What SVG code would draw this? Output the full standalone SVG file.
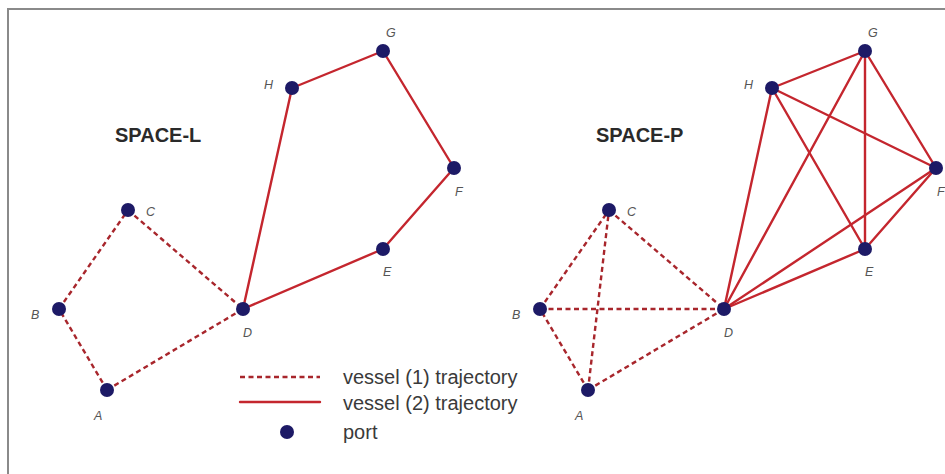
<svg xmlns="http://www.w3.org/2000/svg" width="945" height="474" viewBox="0 0 945 474">
<style>
.bg{fill:#ffffff}
.frame{fill:none;stroke:#8a8a8a;stroke-width:2}
.sol{stroke:#c4262e;stroke-width:2.4;fill:none;stroke-linecap:round}
.dash{stroke:#a8262c;stroke-width:2.4;fill:none;stroke-dasharray:5,3.5}
.port{fill:#1d1a66}
.lbl{font-family:"Liberation Sans",Arial,sans-serif;font-style:italic;font-size:12.5px;fill:#555555}
.title{font-family:"Liberation Sans",Arial,sans-serif;font-weight:bold;font-size:20px;fill:#2a2a2a}
.leg{font-family:"Liberation Sans",Arial,sans-serif;font-size:20px;fill:#3a3a3a}
</style>
<rect class="bg" x="0" y="0" width="945" height="474"/>
<rect class="frame" x="8" y="9" width="960" height="480"/>
<g id="connectors">
  <line class="dash" x1="107" y1="390" x2="59" y2="309"/>
  <line class="dash" x1="59" y1="309" x2="128" y2="210"/>
  <line class="dash" x1="128" y1="210" x2="243" y2="309"/>
  <line class="dash" x1="107" y1="390" x2="243" y2="309"/>
  <line class="sol" x1="243" y1="309" x2="292" y2="88"/>
  <line class="sol" x1="292" y1="88" x2="383" y2="51"/>
  <line class="sol" x1="383" y1="51" x2="454" y2="168"/>
  <line class="sol" x1="454" y1="168" x2="383" y2="249"/>
  <line class="sol" x1="383" y1="249" x2="243" y2="309"/>
  <line class="dash" x1="588" y1="390" x2="540" y2="309"/>
  <line class="dash" x1="540" y1="309" x2="609" y2="210"/>
  <line class="dash" x1="609" y1="210" x2="724" y2="309"/>
  <line class="dash" x1="588" y1="390" x2="724" y2="309"/>
  <line class="dash" x1="540" y1="309" x2="724" y2="309"/>
  <line class="dash" x1="588" y1="390" x2="609" y2="210"/>
  <line class="sol" x1="724" y1="309" x2="772" y2="88"/>
  <line class="sol" x1="724" y1="309" x2="865" y2="51"/>
  <line class="sol" x1="724" y1="309" x2="936" y2="168"/>
  <line class="sol" x1="724" y1="309" x2="865" y2="249"/>
  <line class="sol" x1="772" y1="88" x2="865" y2="51"/>
  <line class="sol" x1="772" y1="88" x2="936" y2="168"/>
  <line class="sol" x1="772" y1="88" x2="865" y2="249"/>
  <line class="sol" x1="865" y1="51" x2="936" y2="168"/>
  <line class="sol" x1="865" y1="51" x2="865" y2="249"/>
  <line class="sol" x1="936" y1="168" x2="865" y2="249"/>
</g>
<text class="title" x="115" y="142">SPACE-L</text>
<text class="title" x="596" y="142">SPACE-P</text>
<g id="L-A"><circle class="port" cx="107" cy="390" r="7"/><text class="lbl" x="94" y="420">A</text></g>
<g id="L-B"><circle class="port" cx="59" cy="309" r="7"/><text class="lbl" x="31" y="319">B</text></g>
<g id="L-C"><circle class="port" cx="128" cy="210" r="7"/><text class="lbl" x="146" y="216">C</text></g>
<g id="L-D"><circle class="port" cx="243" cy="309" r="7"/><text class="lbl" x="243" y="337">D</text></g>
<g id="L-E"><circle class="port" cx="383" cy="249" r="7"/><text class="lbl" x="383" y="276">E</text></g>
<g id="L-F"><circle class="port" cx="454" cy="168" r="7"/><text class="lbl" x="455" y="196">F</text></g>
<g id="L-G"><circle class="port" cx="383" cy="51" r="7"/><text class="lbl" x="386" y="37">G</text></g>
<g id="L-H"><circle class="port" cx="292" cy="88" r="7"/><text class="lbl" x="264" y="89">H</text></g>
<g id="P-A"><circle class="port" cx="588" cy="390" r="7"/><text class="lbl" x="575" y="420">A</text></g>
<g id="P-B"><circle class="port" cx="540" cy="309" r="7"/><text class="lbl" x="512" y="319">B</text></g>
<g id="P-C"><circle class="port" cx="609" cy="210" r="7"/><text class="lbl" x="627" y="216">C</text></g>
<g id="P-D"><circle class="port" cx="724" cy="309" r="7"/><text class="lbl" x="724" y="337">D</text></g>
<g id="P-E"><circle class="port" cx="865" cy="249" r="7"/><text class="lbl" x="865" y="276">E</text></g>
<g id="P-F"><circle class="port" cx="936" cy="168" r="7"/><text class="lbl" x="937" y="196">F</text></g>
<g id="P-G"><circle class="port" cx="865" cy="51" r="7"/><text class="lbl" x="868" y="37">G</text></g>
<g id="P-H"><circle class="port" cx="772" cy="88" r="7"/><text class="lbl" x="744" y="89">H</text></g>
<g id="legend">
  <line class="dash" x1="240" y1="377" x2="320" y2="377"/>
  <line class="sol" x1="240" y1="402" x2="320" y2="402" stroke-linecap="butt"/>
  <circle class="port" cx="287" cy="432" r="7"/>
  <text class="leg" x="343" y="384">vessel (1) trajectory</text>
  <text class="leg" x="343" y="410">vessel (2) trajectory</text>
  <text class="leg" x="343" y="439">port</text>
</g>
</svg>
